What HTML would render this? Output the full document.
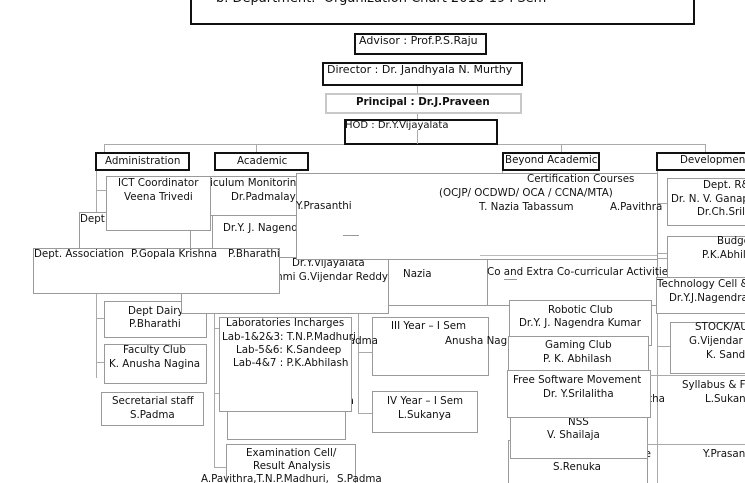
<!DOCTYPE html>
<html><head><meta charset="utf-8"><style>
html,body{margin:0;padding:0;background:#fff;overflow:hidden}
body{width:745px;height:483px;font-family:"DejaVu Sans","Liberation Sans",sans-serif;color:#111}
#c{position:relative;width:745px;height:483px;overflow:hidden;background:#fff}
.b{position:absolute;box-sizing:border-box;border:1px solid #9a9a9a;background:#fff}
.k{position:absolute;box-sizing:border-box;border:2px solid #111;background:#fff}
.t{position:absolute;white-space:nowrap;font-size:10.3px;line-height:14px;color:#111}
.h{position:absolute;height:1px;background:#aaa}
.v{position:absolute;width:1px;background:#aaa}
.r{border-right:none}
</style></head><body><div id="c">

<!-- connectors -->
<div class="v" style="left:417px;top:85px;height:8px"></div>
<div class="v" style="left:417px;top:113px;height:6px"></div>
<div class="h" style="left:104px;top:144px;width:601px"></div>
<div class="v" style="left:104px;top:144px;height:8px"></div>
<div class="v" style="left:256px;top:144px;height:8px"></div>
<div class="v" style="left:561px;top:144px;height:8px"></div>
<div class="v" style="left:705px;top:144px;height:8px"></div>
<div class="v" style="left:96px;top:170px;height:208px"></div>
<div class="h" style="left:96px;top:190px;width:10px"></div>
<div class="h" style="left:96px;top:318px;width:8px"></div>
<div class="h" style="left:96px;top:362px;width:8px"></div>
<div class="v" style="left:190px;top:230px;height:18px"></div>
<div class="v" style="left:214px;top:313px;height:154px"></div>
<div class="h" style="left:214px;top:328px;width:5px"></div>
<div class="h" style="left:214px;top:393px;width:5px"></div>
<div class="h" style="left:214px;top:467px;width:12px"></div>
<div class="v" style="left:358px;top:313px;height:100px"></div>
<div class="h" style="left:358px;top:352px;width:14px"></div>
<div class="h" style="left:358px;top:413px;width:14px"></div>
<div class="v" style="left:502px;top:170px;height:3px"></div>
<div class="v" style="left:657px;top:170px;height:313px"></div>
<div class="h" style="left:657px;top:203px;width:10px"></div>
<div class="h" style="left:657px;top:253px;width:10px"></div>
<div class="h" style="left:657px;top:258px;width:10px"></div>
<div class="h" style="left:657px;top:346px;width:13px"></div>

<!-- top hierarchy -->
<div class="k" style="left:190px;top:0px;width:505px;height:25px;border-top:none"></div>
<div class="t" style="left:216px;top:-9px;font-size:13px;line-height:16px">b. Department:&nbsp; Organization Chart 2018-19 I Sem</div>

<div class="k" style="left:354px;top:33px;width:133px;height:22px"></div>
<div class="t" style="left:359px;top:33.5px;font-size:11px">Advisor : Prof.P.S.Raju</div>

<div class="k" style="left:322px;top:62px;width:201px;height:24px"></div>
<div class="t" style="left:327px;top:63px;font-size:11px">Director : Dr. Jandhyala N. Murthy</div>

<div class="b" style="left:325px;top:93px;width:197px;height:21px;border:2px solid #c8c8c8"></div>
<div class="t" style="left:356px;top:95px;font-weight:bold">Principal : Dr.J.Praveen</div>

<div class="k" style="left:344px;top:119px;width:154px;height:26px;background:transparent"></div>
<div class="v" style="left:417px;top:130px;height:14px"></div>
<div class="t" style="left:345px;top:119px;font-size:10px">HOD : Dr.Y.Vijayalata</div>

<!-- level boxes -->
<div class="k" style="left:95px;top:152px;width:95px;height:19px"></div>
<div class="t" style="left:105px;top:153.5px">Administration</div>
<div class="k" style="left:214px;top:152px;width:95px;height:19px"></div>
<div class="t" style="left:237px;top:153.5px">Academic</div>
<div class="k" style="left:502px;top:152px;width:98px;height:19px"></div>
<div class="t" style="left:505px;top:153px">Beyond Academic</div>
<div class="k r" style="left:656px;top:152px;width:89px;height:19px"></div>
<div class="t" style="left:680px;top:153px">Development</div>

<!-- left cluster -->
<div class="b" style="left:79px;top:212px;width:112px;height:40px"></div>
<div class="t" style="left:80px;top:211.5px">Dept.</div>

<div class="b" style="left:104px;top:301px;width:103px;height:37px"></div>
<div class="t" style="left:128px;top:304px">Dept Dairy</div>
<div class="t" style="left:129px;top:317px">P.Bharathi</div>

<div class="b" style="left:181px;top:250px;width:208px;height:64px"></div>
<div class="t" style="left:292px;top:256px">Dr.Y.Vijayalata</div>
<div class="t" style="right:357px;top:270px">Srilakshmi G.Vijendar Reddy</div>

<div class="b" style="left:212px;top:205px;width:89px;height:53px"></div>
<div class="t" style="left:200px;top:205px">for Career Counselling</div>
<div class="t" style="left:223px;top:221px">Dr.Y. J. Nagendra Kumar</div>

<div class="b" style="left:187px;top:176px;width:114px;height:40px"></div>
<div class="t" style="left:188px;top:175.5px">Curriculum Monitoring</div>
<div class="t" style="left:231px;top:189.5px">Dr.Padmalaya</div>

<div class="b" style="left:106px;top:176px;width:105px;height:55px"></div>
<div class="t" style="left:118px;top:175.5px">ICT Coordinator</div>
<div class="t" style="left:124px;top:189.5px">Veena Trivedi</div>

<!-- middle cluster -->
<div class="b" style="left:388px;top:250px;width:100px;height:56px"></div>
<div class="t" style="right:333px;top:248px">V.Shailaja</div>
<div class="t" style="left:403px;top:267px">Nazia</div>

<div class="b" style="left:487px;top:250px;width:171px;height:56px"></div>
<div class="t" style="left:488px;top:249px">Nazia Tabassum</div>
<div class="t" style="left:487px;top:265px">Co and Extra Co-curricular Activities</div>
<div class="h" style="left:504px;top:279px;width:13px;background:#999"></div>

<div class="b r" style="left:667px;top:236px;width:78px;height:44px"></div>
<div class="t" style="left:717px;top:234px">Budget</div>
<div class="t" style="left:702px;top:248px">P.K.Abhilash</div>

<div class="b" style="left:296px;top:173px;width:362px;height:87px"></div>
<div class="t" style="left:296px;top:199px">Y.Prasanthi</div>
<div class="t" style="left:527px;top:172px">Certification Courses</div>
<div class="t" style="left:439px;top:186px">(OCJP/ OCDWD/ OCA / CCNA/MTA)</div>
<div class="t" style="left:479px;top:200px">T. Nazia Tabassum</div>
<div class="t" style="left:610px;top:200px">A.Pavithra</div>
<div class="h" style="left:343px;top:235px;width:16px;background:#999"></div>
<div class="h" style="left:480px;top:255px;width:177px;background:#bbb"></div>

<div class="b" style="left:33px;top:248px;width:247px;height:46px"></div>
<div class="t" style="left:34px;top:247px">Dept. Association</div>
<div class="t" style="left:131px;top:247px">P.Gopala Krishna</div>
<div class="t" style="left:228px;top:247px">P.Bharathi</div>

<div class="b" style="left:104px;top:344px;width:103px;height:40px"></div>
<div class="t" style="left:123px;top:343px">Faculty Club</div>
<div class="t" style="left:109px;top:357px">K. Anusha Nagina</div>

<div class="b" style="left:101px;top:392px;width:103px;height:34px"></div>
<div class="t" style="left:112px;top:394px">Secretarial staff</div>
<div class="t" style="left:130px;top:408px">S.Padma</div>

<!-- academic lower -->
<div class="b" style="left:227px;top:320px;width:119px;height:120px"></div>
<div class="t" style="right:391px;top:394px">Padma</div>

<div class="b" style="left:372px;top:317px;width:117px;height:59px"></div>
<div class="t" style="left:391px;top:319px">III Year – I Sem</div>
<div class="t" style="left:445px;top:334px">Anusha Nagina</div>
<div class="t" style="right:367px;top:334px">S.Padma</div>

<div class="b" style="left:219px;top:317px;width:133px;height:95px"></div>
<div class="t" style="left:226px;top:316px">Laboratories Incharges</div>
<div class="t" style="left:222px;top:329.5px">Lab-1&amp;2&amp;3: T.N.P.Madhuri</div>
<div class="t" style="left:236px;top:343px">Lab-5&amp;6: K.Sandeep</div>
<div class="t" style="left:233px;top:356px">Lab-4&amp;7 : P.K.Abhilash</div>

<div class="b" style="left:372px;top:391px;width:106px;height:42px"></div>
<div class="t" style="left:387px;top:394px">IV Year – I Sem</div>
<div class="t" style="left:398px;top:408px">L.Sukanya</div>

<div class="b" style="left:226px;top:444px;width:130px;height:50px"></div>
<div class="t" style="left:246px;top:446px">Examination Cell/</div>
<div class="t" style="left:253px;top:459px">Result Analysis</div>
<div class="t" style="left:201px;top:472px">A.Pavithra,T.N.P.Madhuri,</div>
<div class="t" style="left:337px;top:472px">S.Padma</div>

<!-- beyond academic lower -->
<div class="t" style="right:94px;top:447px">Cultural Committee</div>
<div class="b" style="left:508px;top:440px;width:140px;height:50px"></div>
<div class="t" style="left:553px;top:460px">S.Renuka</div>

<div class="b" style="left:510px;top:405px;width:138px;height:54px"></div>
<div class="t" style="left:568px;top:414.5px">NSS</div>
<div class="t" style="left:547px;top:428px">V. Shailaja</div>

<div class="t" style="right:80px;top:392px">Dr. Y.Srilalitha</div>

<div class="b" style="left:509px;top:300px;width:143px;height:46px"></div>
<div class="t" style="left:548px;top:302.5px">Robotic Club</div>
<div class="t" style="left:519px;top:316px">Dr.Y. J. Nagendra Kumar</div>

<div class="b" style="left:508px;top:336px;width:141px;height:45px"></div>
<div class="t" style="left:545px;top:338px">Gaming Club</div>
<div class="t" style="left:543px;top:352px">P. K. Abhilash</div>

<div class="b" style="left:507px;top:370px;width:144px;height:48px"></div>
<div class="t" style="left:513px;top:373px">Free Software Movement</div>
<div class="t" style="left:543px;top:387px">Dr. Y.Srilalitha</div>

<!-- development -->
<div class="b r" style="left:667px;top:178px;width:78px;height:48px"></div>
<div class="t" style="left:703px;top:178px">Dept. R&amp;D</div>
<div class="t" style="left:671px;top:191.5px">Dr. N. V. Ganapathi Raju</div>
<div class="t" style="left:697px;top:205px">Dr.Ch.Srilakshmi</div>

<div class="b r" style="left:656px;top:277px;width:89px;height:37px"></div>
<div class="t" style="left:657px;top:277px">Technology Cell &amp; IT</div>
<div class="t" style="left:669px;top:290.5px">Dr.Y.J.Nagendra Kumar</div>

<div class="b r" style="left:670px;top:322px;width:75px;height:52px"></div>
<div class="t" style="left:695px;top:320px">STOCK/AUDIT</div>
<div class="t" style="left:689px;top:334px">G.Vijendar Reddy</div>
<div class="t" style="left:706px;top:348px">K. Sandeep</div>

<div class="h" style="left:650px;top:375px;width:95px"></div>
<div class="t" style="left:682px;top:378px">Syllabus &amp; Framing</div>
<div class="t" style="left:705px;top:392px">L.Sukanya</div>

<div class="h" style="left:647px;top:444px;width:98px"></div>
<div class="t" style="left:703px;top:447px">Y.Prasanthi</div>

</div></body></html>
